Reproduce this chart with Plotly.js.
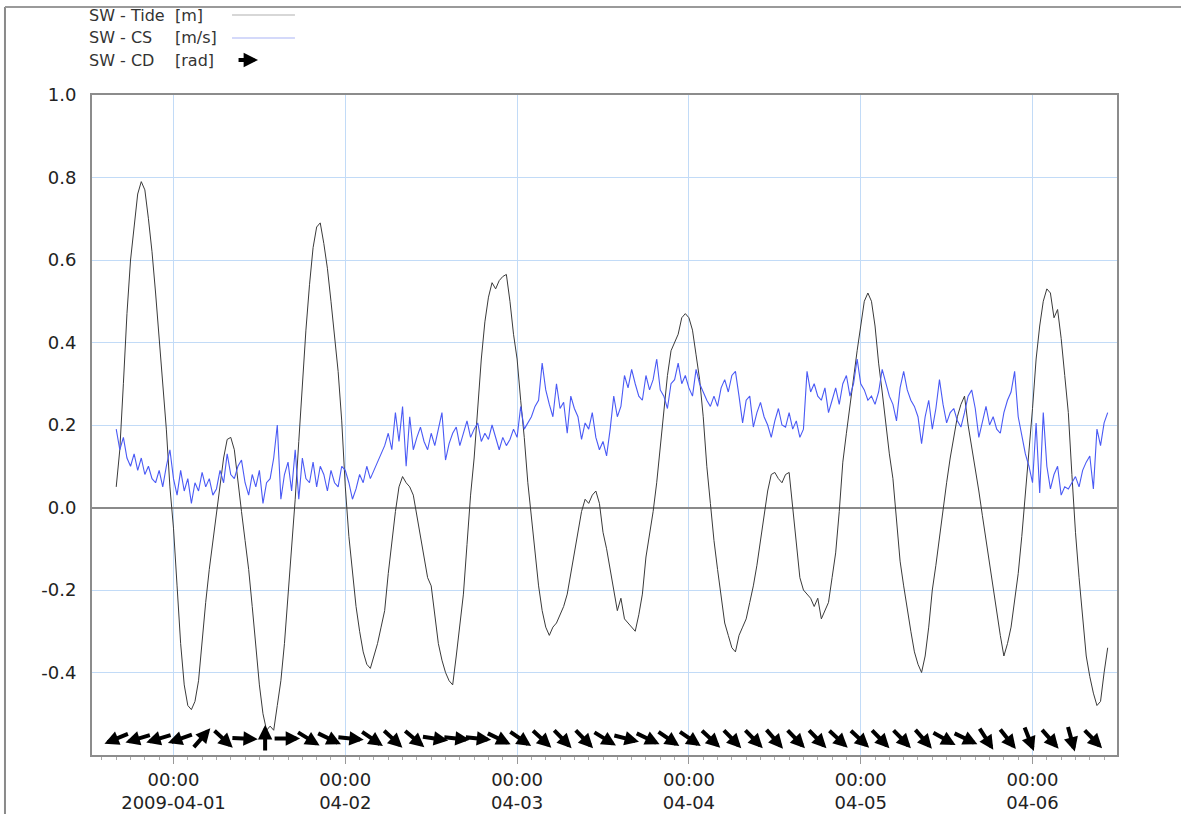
<!DOCTYPE html>
<html>
<head>
<meta charset="utf-8">
<script src="https://cdn.plot.ly/plotly-3.0.1.min.js"></script>
<style>
  html, body { margin: 0; padding: 0; background: #ffffff; }
  #chart { width: 1181px; height: 814px; }
</style>
</head>
<body>
<div id="chart"></div>
<script>
// ---------------- DATA ----------------
// Series sampled every 30 minutes starting at this time
const seriesStart = '2009-03-31 16:00';
const seriesStepMinutes = 30;

// SW - Tide [m]
const tideM = [
  0.05, 0.14, 0.30, 0.47, 0.60, 0.68, 0.76, 0.79, 0.77, 0.70, 0.62, 0.52,
  0.41, 0.29, 0.19, 0.05, -0.05, -0.19, -0.33, -0.43, -0.48, -0.49, -0.47, -0.42,
  -0.32, -0.23, -0.15, -0.08, -0.01, 0.06, 0.12, 0.165, 0.17, 0.14, 0.06, -0.01,
  -0.08, -0.15, -0.24, -0.34, -0.43, -0.50, -0.54, -0.53, -0.54, -0.48, -0.42, -0.33,
  -0.22, -0.10, 0.02, 0.16, 0.30, 0.43, 0.54, 0.63, 0.68, 0.69, 0.64, 0.58,
  0.50, 0.42, 0.33, 0.21, 0.05, -0.07, -0.16, -0.24, -0.30, -0.35, -0.38, -0.39,
  -0.36, -0.33, -0.29, -0.25, -0.16, -0.08, -0.01, 0.05, 0.075, 0.06, 0.05, 0.03,
  -0.02, -0.07, -0.12, -0.17, -0.19, -0.26, -0.33, -0.37, -0.40, -0.42, -0.43, -0.36,
  -0.29, -0.21, -0.09, 0.03, 0.12, 0.24, 0.36, 0.45, 0.51, 0.545, 0.53, 0.55,
  0.56, 0.565, 0.50, 0.42, 0.36, 0.26, 0.17, 0.06, -0.02, -0.11, -0.19, -0.25,
  -0.29, -0.31, -0.29, -0.28, -0.26, -0.24, -0.21, -0.16, -0.12, -0.06, -0.01, 0.02,
  0.01, 0.03, 0.04, 0.01, -0.06, -0.10, -0.15, -0.20, -0.25, -0.22, -0.27, -0.28,
  -0.29, -0.30, -0.26, -0.21, -0.12, -0.07, -0.01, 0.06, 0.15, 0.24, 0.32, 0.38,
  0.40, 0.42, 0.46, 0.47, 0.46, 0.43, 0.37, 0.31, 0.22, 0.10, 0.01, -0.08,
  -0.15, -0.22, -0.28, -0.31, -0.34, -0.35, -0.31, -0.29, -0.27, -0.23, -0.19, -0.14,
  -0.08, -0.02, 0.04, 0.08, 0.085, 0.07, 0.06, 0.08, 0.085, 0.00, -0.09, -0.17,
  -0.20, -0.21, -0.22, -0.24, -0.22, -0.27, -0.25, -0.23, -0.17, -0.11, -0.01, 0.11,
  0.18, 0.25, 0.32, 0.38, 0.44, 0.50, 0.52, 0.50, 0.44, 0.35, 0.28, 0.20,
  0.13, 0.07, -0.04, -0.13, -0.19, -0.25, -0.30, -0.35, -0.38, -0.40, -0.36, -0.29,
  -0.20, -0.14, -0.07, -0.01, 0.06, 0.12, 0.17, 0.22, 0.25, 0.27, 0.20, 0.15,
  0.10, 0.04, -0.02, -0.08, -0.14, -0.19, -0.25, -0.31, -0.36, -0.33, -0.29, -0.23,
  -0.16, -0.07, 0.03, 0.13, 0.24, 0.36, 0.44, 0.50, 0.53, 0.52, 0.46, 0.48,
  0.41, 0.32, 0.23, 0.08, -0.06, -0.17, -0.27, -0.36, -0.41, -0.45, -0.48, -0.47,
  -0.40, -0.34
];

// SW - CS [m/s]
const csMs = [
  0.19, 0.14, 0.17, 0.12, 0.10, 0.13, 0.09, 0.12, 0.08, 0.10, 0.07, 0.06,
  0.09, 0.05, 0.10, 0.14, 0.07, 0.03, 0.09, 0.04, 0.07, 0.01, 0.06, 0.04,
  0.085, 0.05, 0.07, 0.03, 0.045, 0.09, 0.06, 0.13, 0.08, 0.07, 0.10, 0.115,
  0.06, 0.03, 0.08, 0.05, 0.09, 0.01, 0.06, 0.07, 0.12, 0.20, 0.02, 0.08,
  0.11, 0.04, 0.14, 0.02, 0.12, 0.07, 0.06, 0.11, 0.05, 0.10, 0.08, 0.04,
  0.09, 0.06, 0.05, 0.10, 0.09, 0.06, 0.02, 0.045, 0.08, 0.06, 0.10, 0.07,
  0.09, 0.11, 0.13, 0.15, 0.18, 0.14, 0.23, 0.16, 0.245, 0.10, 0.22, 0.14,
  0.17, 0.195, 0.16, 0.14, 0.18, 0.15, 0.19, 0.23, 0.115, 0.155, 0.18, 0.195,
  0.15, 0.18, 0.21, 0.17, 0.19, 0.205, 0.16, 0.18, 0.165, 0.20, 0.17, 0.14,
  0.17, 0.15, 0.165, 0.19, 0.17, 0.245, 0.19, 0.205, 0.22, 0.245, 0.26, 0.35,
  0.285, 0.25, 0.22, 0.30, 0.24, 0.255, 0.18, 0.27, 0.24, 0.22, 0.165, 0.205,
  0.19, 0.23, 0.17, 0.14, 0.16, 0.125, 0.19, 0.27, 0.22, 0.245, 0.32, 0.29,
  0.335, 0.30, 0.27, 0.26, 0.32, 0.285, 0.31, 0.36, 0.285, 0.27, 0.24, 0.30,
  0.31, 0.35, 0.30, 0.32, 0.29, 0.27, 0.335, 0.30, 0.28, 0.26, 0.245, 0.27,
  0.245, 0.29, 0.31, 0.28, 0.32, 0.33, 0.27, 0.205, 0.26, 0.27, 0.195, 0.23,
  0.255, 0.22, 0.20, 0.17, 0.21, 0.24, 0.20, 0.195, 0.23, 0.19, 0.21, 0.17,
  0.19, 0.33, 0.28, 0.30, 0.27, 0.26, 0.29, 0.23, 0.26, 0.29, 0.25, 0.30,
  0.32, 0.27, 0.30, 0.36, 0.30, 0.285, 0.26, 0.27, 0.25, 0.28, 0.335, 0.30,
  0.27, 0.25, 0.21, 0.29, 0.33, 0.285, 0.26, 0.245, 0.22, 0.155, 0.22, 0.26,
  0.19, 0.24, 0.31, 0.25, 0.205, 0.23, 0.24, 0.21, 0.195, 0.23, 0.27, 0.285,
  0.24, 0.17, 0.21, 0.245, 0.20, 0.22, 0.19, 0.18, 0.23, 0.26, 0.28, 0.33,
  0.22, 0.17, 0.13, 0.10, 0.06, 0.205, 0.035, 0.23, 0.10, 0.045, 0.08, 0.10,
  0.03, 0.05, 0.045, 0.06, 0.075, 0.05, 0.09, 0.11, 0.125, 0.045, 0.19, 0.15,
  0.205, 0.23
];

// SW - CD [rad] : direction arrows, times in hours after 2009-04-01 00:00
const cdBase = '2009-04-01 00:00';
const cdHours = [
  -7.9, -4.9, -2.0, 1.0, 3.9, 6.9, 9.9, 12.8, 15.8, 18.8, 21.7, 24.7,
  27.7, 30.6, 33.6, 36.5, 39.5, 42.5, 45.4, 48.4, 51.4, 54.3, 57.3, 60.2,
  63.2, 66.2, 69.1, 72.1, 75.0, 78.0, 81.0, 83.9, 86.9, 89.9, 92.8, 95.8,
  98.7, 101.7, 104.7, 107.6, 110.6, 113.5, 116.5, 119.5, 122.4, 125.4, 128.4
];
const cdRad = [
  -2.75, -2.85, -2.85, -2.80, 0.85, -0.75, -0.05, 1.57, 0.00, -0.55, -0.45, -0.10,
  -0.60, -0.75, -0.70, -0.15, -0.10, -0.10, -0.45, -0.60, -0.75, -0.80, -0.80, -0.55,
  -0.25, -0.45, -0.60, -0.60, -0.75, -0.80, -0.80, -0.85, -0.80, -0.80, -0.75, -0.75,
  -0.80, -0.80, -0.85, -0.50, -0.45, -1.00, -0.90, -1.20, -0.85, -1.30, -0.80
];

// Axis tick labels
const xTickDates = ['2009-04-01', '2009-04-02', '2009-04-03', '2009-04-04', '2009-04-05', '2009-04-06'];
const xTickText = ['00:00<br>2009-04-01', '00:00<br>04-02', '00:00<br>04-03', '00:00<br>04-04', '00:00<br>04-05', '00:00<br>04-06'];
const yTickVals = [-0.4, -0.2, 0.0, 0.2, 0.4, 0.6, 0.8, 1.0];
const yTickText = ['-0.4', '-0.2', '0.0', '0.2', '0.4', '0.6', '0.8', '1.0'];

// Legend labels
const legendNames = ['SW - Tide', 'SW - CS', 'SW - CD'];
const legendUnits = ['[m]', '[m/s]', '[rad]'];

// ---------------- HELPERS ----------------
function parseT(s) {
  const [d, t] = s.split(' ');
  const [Y, M, D] = d.split('-').map(Number);
  const [h, m] = (t || '00:00').split(':').map(Number);
  return Date.UTC(Y, M - 1, D, h, m);
}
function fmt(ms) {
  const d = new Date(ms);
  const p = n => String(n).padStart(2, '0');
  return d.getUTCFullYear() + '-' + p(d.getUTCMonth() + 1) + '-' + p(d.getUTCDate()) +
    ' ' + p(d.getUTCHours()) + ':' + p(d.getUTCMinutes()) + ':' + p(d.getUTCSeconds());
}
const t0 = parseT(seriesStart);
const tideX = tideM.map((_, i) => fmt(t0 + i * seriesStepMinutes * 60000));
const csX = csMs.map((_, i) => fmt(t0 + i * seriesStepMinutes * 60000));
const cdT0 = parseT(cdBase);
const cdX = cdHours.map(h => fmt(cdT0 + h * 3600000));

// ---------------- TRACES ----------------
const FONT = 'DejaVu Sans, Liberation Sans, Arial, sans-serif';
const traces = [
  { type: 'scatter', mode: 'lines', x: tideX, y: tideM, name: 'SW - Tide [m]',
    line: { color: '#3a3a3a', width: 1 }, showlegend: false, hoverinfo: 'skip' },
  { type: 'scatter', mode: 'lines', x: csX, y: csMs, name: 'SW - CS [m/s]',
    line: { color: '#4a5af5', width: 1.1 }, showlegend: false, hoverinfo: 'skip' }
];

// ---------------- ANNOTATIONS ----------------
const annotations = [];
const ARROW_LEN = 27;
const ARROW_Y = -0.56;
const ARROW_STYLE = { showarrow: true, arrowhead: 2, arrowsize: 0.72, arrowwidth: 4, arrowcolor: '#000' };
cdX.forEach((x, i) => {
  const th = cdRad[i];
  const c = Math.cos(th), s = Math.sin(th);
  annotations.push(Object.assign({
    x: x, y: ARROW_Y, xref: 'x', yref: 'y', text: '',
    ax: -ARROW_LEN * c, ay: ARROW_LEN * s,
    xshift: ARROW_LEN / 2 * c, yshift: ARROW_LEN / 2 * s
  }, ARROW_STYLE));
});

// Legend (text first, sample after) in paper coordinates
const legRowY = [1.1212, 1.0864, 1.0530];
legendNames.forEach((n, i) => {
  annotations.push({ x: -0.0049, y: legRowY[i], xref: 'paper', yref: 'paper', text: n,
    showarrow: false, xanchor: 'left', yanchor: 'middle',
    font: { family: FONT, size: 16, color: '#333' } });
  annotations.push({ x: 0.0795, y: legRowY[i], xref: 'paper', yref: 'paper', text: legendUnits[i],
    showarrow: false, xanchor: 'left', yanchor: 'middle',
    font: { family: FONT, size: 16, color: '#333' } });
});
annotations.push(Object.assign({ x: 0.162, y: legRowY[2], xref: 'paper', yref: 'paper', text: '',
  ax: -21, ay: 0 }, ARROW_STYLE));

const shapes = [
  // legend line samples
  { type: 'line', xref: 'paper', yref: 'paper', x0: 0.1366, x1: 0.198, y0: legRowY[0], y1: legRowY[0],
    line: { color: '#b0b0b0', width: 1.2 } },
  { type: 'line', xref: 'paper', yref: 'paper', x0: 0.1366, x1: 0.198, y0: legRowY[1], y1: legRowY[1],
    line: { color: '#aab3f5', width: 1.2 } },
  // outer frame fragments (left and top)
  { type: 'line', xref: 'paper', yref: 'paper', x0: -0.0849, x1: -0.0849, y0: -0.09, y1: 1.1333,
    line: { color: '#8a8a8a', width: 2 } },
  { type: 'line', xref: 'paper', yref: 'paper', x0: -0.0849, x1: 1.07, y0: 1.1333, y1: 1.1333,
    line: { color: '#9a9a9a', width: 2 } }
];

// ---------------- LAYOUT ----------------
const layout = {
  width: 1181, height: 814,
  margin: { l: 92, r: 64, t: 95, b: 59 },
  paper_bgcolor: '#ffffff', plot_bgcolor: '#ffffff',
  showlegend: false,
  font: { family: FONT, size: 18, color: '#222' },
  xaxis: {
    type: 'date',
    range: ['2009-03-31 12:37', '2009-04-06 11:48'],
    tickmode: 'array', tickvals: xTickDates, ticktext: xTickText,
    showgrid: true, gridcolor: '#c2dbf7', gridwidth: 1,
    ticks: 'outside', ticklen: 7, tickcolor: '#999', tickwidth: 1,
    showline: true, linecolor: '#8c8c8c', linewidth: 2, mirror: true,
    zeroline: false,
    tickfont: { family: FONT, size: 18, color: '#222' },
    minor: { tickmode: 'linear', tick0: '2009-04-01', dtick: 7200000, ticks: 'outside',
             ticklen: 3, tickcolor: '#aaa', showgrid: false }
  },
  yaxis: {
    range: [-0.6, 1.0],
    tickmode: 'array', tickvals: yTickVals, ticktext: yTickText,
    showgrid: true, gridcolor: '#c2dbf7', gridwidth: 1,
    zeroline: true, zerolinecolor: '#8a8a8a', zerolinewidth: 2,
    showline: true, linecolor: '#8c8c8c', linewidth: 2, mirror: true,
    ticks: '', ticklabelstandoff: 10,
    tickfont: { family: FONT, size: 18, color: '#222' }
  },
  annotations: annotations,
  shapes: shapes
};

Plotly.newPlot('chart', traces, layout, { staticPlot: true, displayModeBar: false });
</script>
</body>
</html>
